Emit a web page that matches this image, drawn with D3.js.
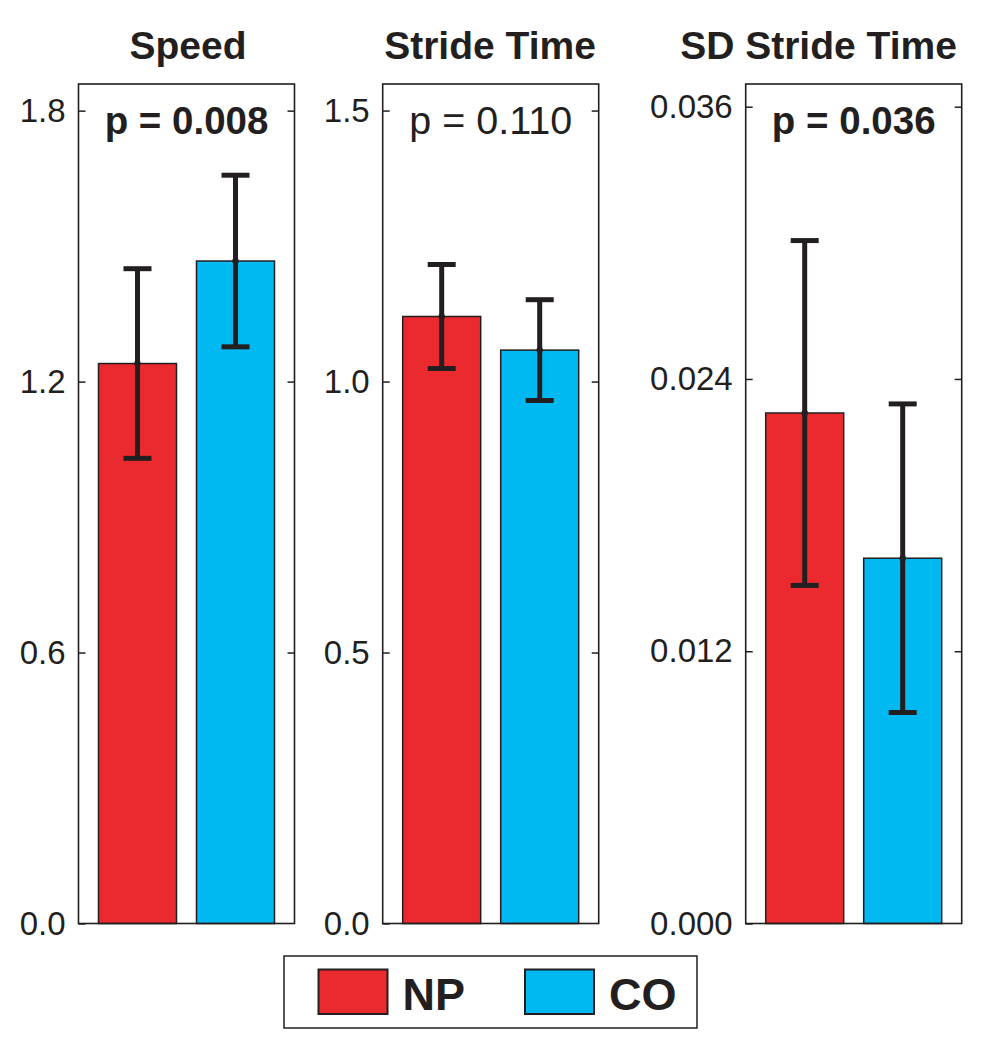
<!DOCTYPE html>
<html>
<head>
<meta charset="utf-8">
<script src="https://cdn.jsdelivr.net/npm/d3@7"></script>
<style>
  html, body { margin: 0; padding: 0; background: #fff; }
  svg { display: block; }
  text { font-family: "Liberation Sans", Arial, Helvetica, sans-serif; fill: #231f20; }
</style>
</head>
<body>
<svg id="chart" width="981" height="1050"></svg>
<script>
// ---- data ----
const panelTitles = ["Speed", "Stride Time", "SD Stride Time"];
const groups = ["NP", "CO"];
const groupColors = ["#eb2a2f", "#00b9f1"];
const npMeans = [1.24, 1.12, 0.0225];
const coMeans = [1.467, 1.058, 0.0161];
const npErrors = [0.21, 0.096, 0.0076];
const coErrors = [0.19, 0.093, 0.0068];
const yMaxes = [1.859, 1.549, 0.0370];
const yTickValues = [[0, 0.6, 1.2, 1.8], [0, 0.5, 1.0, 1.5], [0, 0.012, 0.024, 0.036]];
const yTickFormats = [".1f", ".1f", ".3f"];
const pLabels = ["p = 0.008", "p = 0.110", "p = 0.036"];
const pBold = [true, false, true];

// ---- layout ----
const panelLefts = [78.5, 382.7, 745.7];
const titleCenters = [188, 490, 818.5];
const panelWidth = 216;
const plotTop = 84, plotBottom = 923.5;
const ink = "#231f20";

const svg = d3.select("#chart");

panelTitles.forEach((title, i) => {
  const g = svg.append("g").attr("transform", `translate(${panelLefts[i]},0)`);
  const y = d3.scaleLinear().domain([0, yMaxes[i]]).range([plotBottom, plotTop]);
  const x = d3.scaleBand().domain(groups).range([0, panelWidth])
    .paddingInner(20 / 98).paddingOuter(20 / 98);

  const rows = groups.map((grp, k) => ({
    group: grp,
    mean: k === 0 ? npMeans[i] : coMeans[i],
    err: k === 0 ? npErrors[i] : coErrors[i],
    color: groupColors[k]
  }));

  // bars
  g.selectAll("rect.bar").data(rows).join("rect")
    .attr("class", "bar")
    .attr("x", d => x(d.group))
    .attr("width", x.bandwidth())
    .attr("y", d => y(d.mean))
    .attr("height", d => y(0) - y(d.mean))
    .attr("fill", d => d.color)
    .attr("stroke", ink)
    .attr("stroke-width", 1.5);

  // error bars
  const eb = g.selectAll("g.err").data(rows).join("g").attr("class", "err");
  eb.append("line")
    .attr("x1", d => x(d.group) + x.bandwidth() / 2)
    .attr("x2", d => x(d.group) + x.bandwidth() / 2)
    .attr("y1", d => y(d.mean + d.err))
    .attr("y2", d => y(d.mean - d.err))
    .attr("stroke", ink).attr("stroke-width", 5);
  [1, -1].forEach(sgn => {
    eb.append("line")
      .attr("x1", d => x(d.group) + x.bandwidth() / 2 - 14)
      .attr("x2", d => x(d.group) + x.bandwidth() / 2 + 14)
      .attr("y1", d => y(d.mean + sgn * d.err))
      .attr("y2", d => y(d.mean + sgn * d.err))
      .attr("stroke", ink).attr("stroke-width", 5);
  });
  eb.append("circle")
    .attr("cx", d => x(d.group) + x.bandwidth() / 2)
    .attr("cy", d => y(d.mean))
    .attr("r", 3.2)
    .attr("fill", ink);

  // axes
  const left = g.append("g").call(
    d3.axisLeft(y).tickValues(yTickValues[i]).tickFormat(d3.format(yTickFormats[i]))
      .tickSizeInner(-7).tickSizeOuter(0).tickPadding(13)
  );
  left.select(".domain").remove();
  left.selectAll("line").attr("stroke", ink).attr("stroke-width", 1.5);
  left.selectAll("text").attr("font-size", 33).attr("fill", ink)
    .style("font-family", "'Liberation Sans', Arial, sans-serif");

  const right = g.append("g").attr("transform", `translate(${panelWidth},0)`).call(
    d3.axisRight(y).tickValues(yTickValues[i].filter(v => v > 0)).tickFormat("")
      .tickSizeInner(-7).tickSizeOuter(0)
  );
  right.select(".domain").remove();
  right.selectAll("line").attr("stroke", ink).attr("stroke-width", 1.5);

  // frame
  g.append("rect")
    .attr("x", 0).attr("y", plotTop)
    .attr("width", panelWidth).attr("height", plotBottom - plotTop)
    .attr("fill", "none").attr("stroke", ink).attr("stroke-width", 1.6);

  // title
  svg.append("text")
    .attr("x", titleCenters[i]).attr("y", 59)
    .attr("text-anchor", "middle")
    .attr("font-size", 39).attr("font-weight", "bold")
    .text(title);

  // p label
  g.append("text")
    .attr("x", panelWidth / 2).attr("y", 134)
    .attr("text-anchor", "middle")
    .attr("font-size", pBold[i] ? 38.5 : 39.5).attr("font-weight", pBold[i] ? "bold" : "normal")
    .text(pLabels[i]);
});

// legend
const legend = svg.append("g");
legend.append("rect")
  .attr("x", 284).attr("y", 956).attr("width", 413).attr("height", 72)
  .attr("fill", "#fff").attr("stroke", ink).attr("stroke-width", 1.5);
const lx = d3.scalePoint().domain(groups).range([318.5, 525]);
const items = legend.selectAll("g.item").data(groups).join("g").attr("class", "item")
  .attr("transform", d => `translate(${lx(d)},0)`);
items.append("rect")
  .attr("x", 0).attr("y", 969.5).attr("width", 69).attr("height", 44.5)
  .attr("fill", (d, k) => groupColors[k])
  .attr("stroke", ink).attr("stroke-width", 2);
items.append("text")
  .attr("x", 84).attr("y", 1009.5)
  .attr("font-size", 45).attr("font-weight", "bold")
  .text(d => d);
</script>
</body>
</html>
